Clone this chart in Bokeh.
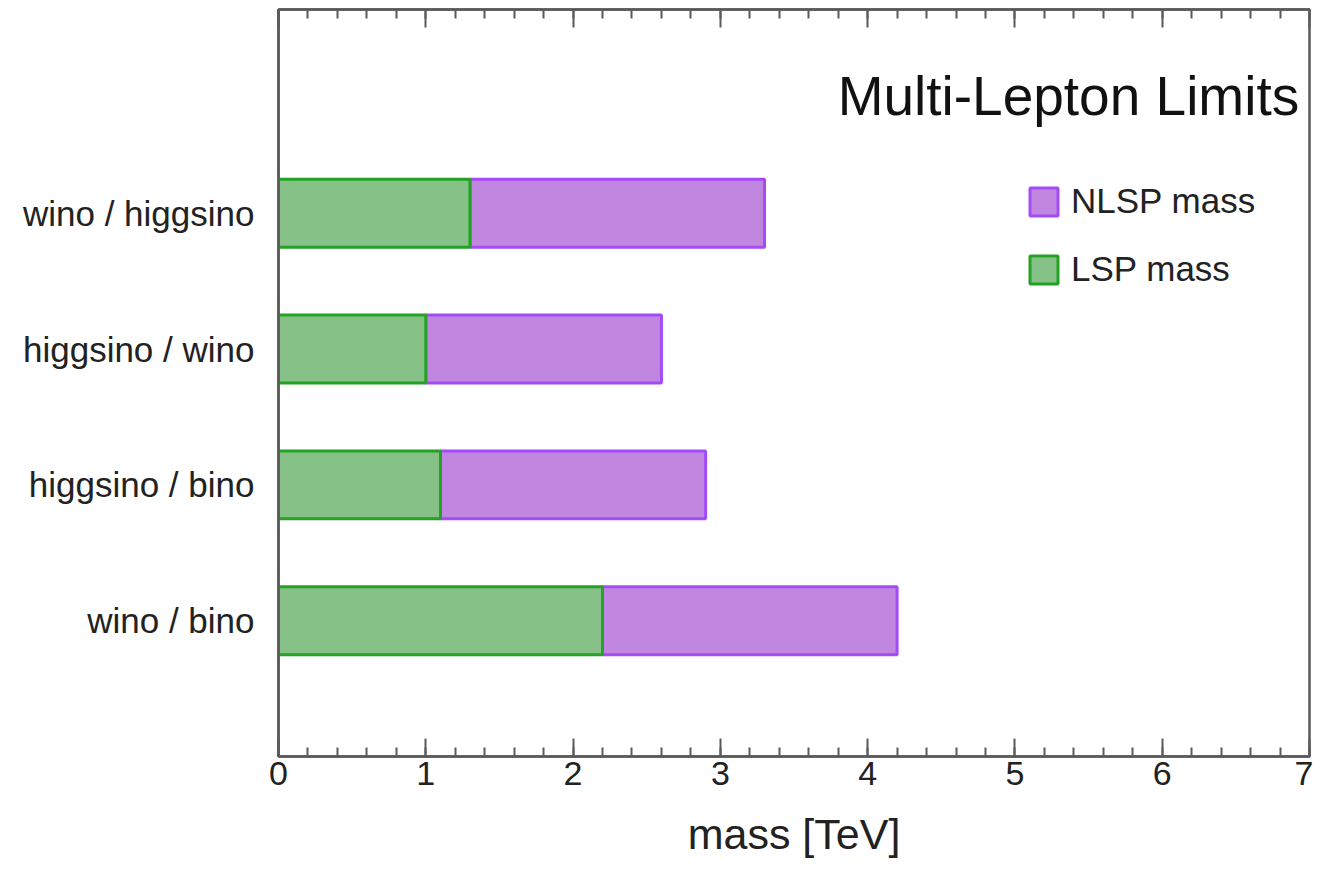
from bokeh.plotting import figure
from bokeh.models import (LinearAxis, SingleIntervalTicker, FixedTicker, Range1d,
                          Label, Legend, LegendItem, ColumnDataSource)
from bokeh.embed import file_html
from bokeh.resources import INLINE

categories = ["wino / bino", "higgsino / bino", "higgsino / wino", "wino / higgsino"]
lsp_mass = [2.2, 1.1, 1.0, 1.3]
nlsp_mass = [4.2, 2.9, 2.6, 3.3]

positions = [i + 1 for i in range(len(categories))]

src = ColumnDataSource(dict(y=positions, lsp=lsp_mass, nlsp=nlsp_mass, zero=[0] * len(positions)))

FONT = "Liberation Sans"
AX = "#5a5a5a"

p = figure(width=1313, height=860, output_backend="svg", toolbar_location=None,
           x_range=Range1d(0, 7), y_range=Range1d(0, 5.5),
           x_axis_location=None, y_axis_location=None,
           min_border_left=278, min_border_right=4, min_border_top=9, min_border_bottom=100)
p.background_fill_color = "white"
p.border_fill_color = "white"
p.grid.visible = False
p.outline_line_color = AX
p.outline_line_width = 2.5

nlsp = p.hbar(y="y", left="lsp", right="nlsp", height=0.5, source=src,
              fill_color="#c187e0", line_color="#a34cf5", line_width=3)
lsp = p.hbar(y="y", left="zero", right="lsp", height=0.5, source=src,
             fill_color="#86c287", line_color="#25a125", line_width=3)

# bottom axis
xb = LinearAxis(ticker=SingleIntervalTicker(interval=1, num_minor_ticks=5))
xb.major_tick_in = 18
xb.major_tick_out = 0
xb.minor_tick_in = 9
xb.minor_tick_out = 0
xb.major_tick_line_color = AX
xb.minor_tick_line_color = AX
xb.major_tick_line_width = 2
xb.minor_tick_line_width = 2
xb.axis_line_color = AX
xb.axis_line_width = 2.5
xb.major_label_text_font = FONT
xb.major_label_text_font_size = "34px"
xb.major_label_text_color = "#222222"
xb.major_label_standoff = 5
xb.axis_label = "mass [TeV]"
xb.axis_label_text_font = FONT
xb.axis_label_text_font_size = "43px"
xb.axis_label_text_font_style = "normal"
xb.axis_label_text_color = "#222222"
xb.axis_label_standoff = 22
p.add_layout(xb, "below")

# top axis (mirrored ticks, no labels)
xt = LinearAxis(ticker=SingleIntervalTicker(interval=1, num_minor_ticks=5))
xt.major_tick_in = 18
xt.major_tick_out = 0
xt.minor_tick_in = 9
xt.minor_tick_out = 0
xt.major_tick_line_color = AX
xt.minor_tick_line_color = AX
xt.major_tick_line_width = 2
xt.minor_tick_line_width = 2
xt.axis_line_color = AX
xt.axis_line_width = 2.5
xt.major_label_text_color = None
xt.major_label_text_font_size = "1px"
xt.major_label_standoff = 0
p.add_layout(xt, "above")

# left category axis
yl = LinearAxis(ticker=FixedTicker(ticks=positions))
yl.major_label_overrides = {pos: c for pos, c in zip(positions, categories)}
yl.major_tick_in = 0
yl.major_tick_out = 0
yl.minor_tick_line_color = None
yl.axis_line_color = AX
yl.axis_line_width = 2.5
yl.major_label_text_font = FONT
yl.major_label_text_font_size = "35px"
yl.major_label_text_color = "#222222"
yl.major_label_standoff = 24
p.add_layout(yl, "left")

p.add_layout(Label(x=6.93, y=4.86, text="Multi-Lepton Limits", text_align="right",
                   text_baseline="alphabetic", text_font=FONT, text_font_size="55px",
                   text_color="#111111"))

legend = Legend(items=[LegendItem(label="NLSP mass", renderers=[nlsp]),
                       LegendItem(label="LSP mass", renderers=[lsp])],
                location=(748, 467))
legend.glyph_width = 35
legend.glyph_height = 35
legend.spacing = 28
legend.label_standoff = 10
legend.padding = 0
legend.margin = 0
legend.border_line_color = None
legend.background_fill_alpha = 0
legend.label_text_font = FONT
legend.label_text_font_size = "35px"
legend.label_text_color = "#222222"
legend.label_height = 35
p.add_layout(legend, "center")

open("out.html", "w").write(file_html(p, INLINE))
